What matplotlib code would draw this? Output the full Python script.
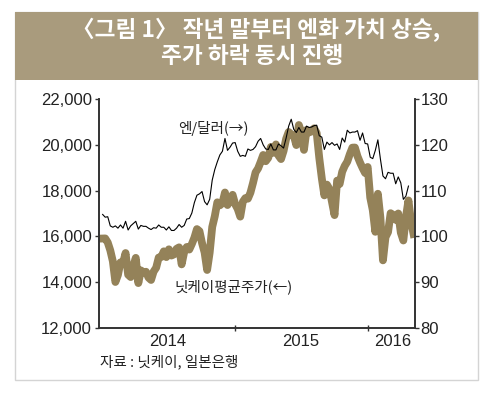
import matplotlib
matplotlib.use("Agg")
import matplotlib.pyplot as plt
from matplotlib.patches import Rectangle
import pandas as pd

plt.rcParams['font.family'] = ['Liberation Sans', 'Noto Sans CJK KR', 'DejaVu Sans']

# Nikkei 225 weekly (left axis), Jan 2014 - early May 2016
nikkei = [
    15908, 15912, 15734, 15391, 14914, 14008, 14313, 14865, 14841, 15274,
    14327, 14224, 14696, 15063, 13960, 14516, 14429, 14457, 14199, 14097,
    14462, 14632, 15077, 15097, 15349, 15095, 15437, 15164, 15215, 15457,
    15523, 14778, 15318, 15539, 15425, 15669, 15948, 16321, 16229, 15709,
    15300, 14532, 15291, 16414, 16880, 17490, 17357, 17460, 17920, 17371,
    17621, 17818,
    17408, 17198, 16864, 17512, 17674, 17648, 17913, 18332, 18797, 18971,
    19254, 19560, 19286, 19435, 19908, 19652, 20020, 19532, 19379, 19733,
    20264, 20563, 20461, 20407, 19990, 20868, 20540, 19780, 20650, 20544,
    20585, 20724, 20519, 19435, 18540, 17792, 18264, 18070, 17500, 16930,
    18438, 18291, 18825, 19083, 19265, 19597, 19879, 19884, 19504, 19230,
    18986, 18769,
    19034, 17698, 17147, 16200, 17865, 16820, 14953, 15967, 16188, 17014,
    16938, 16724, 17002, 16164, 15821, 16848, 17572, 16666, 16106,
]

# JPY per USD weekly (right axis), Jan 2014 - Apr 2016
yen = [
    104.8, 104.2, 104.3, 102.3, 102.0, 102.3, 101.8, 102.5, 101.8, 103.3,
    101.4, 102.3, 102.8, 103.3, 101.6, 102.4, 102.2, 102.2, 101.8, 101.5,
    101.9, 101.8, 102.5, 102.0, 102.0, 101.4, 102.1, 101.3, 101.3, 101.8,
    102.6, 102.0, 102.4, 103.8, 103.9, 105.1, 107.4, 109.0, 109.3, 109.8,
    107.6, 106.9, 108.1, 112.3, 114.6, 116.3, 117.8, 118.6, 121.4, 118.8,
    119.5, 120.4,
    120.5, 118.6, 117.5, 117.7, 117.5, 119.1, 118.8, 119.0, 119.6, 120.8,
    121.4, 120.0, 119.1, 119.0, 120.2, 118.9, 118.9, 120.2, 119.8, 119.3,
    121.5, 124.1, 125.6, 123.4, 122.7, 123.8, 122.8, 122.8, 124.1, 123.8,
    123.9, 124.2, 124.3, 122.0, 121.7, 119.0, 120.6, 120.0, 120.5, 119.9,
    120.2, 119.0, 121.5, 120.6, 123.2, 122.6, 122.8, 122.8, 123.1, 121.0,
    122.6, 120.3,
    120.2, 117.3, 117.0, 118.8, 121.1, 116.9, 113.2, 112.6, 114.0, 113.8,
    113.8, 111.5, 113.0, 111.7, 108.1, 108.8, 111.0,
]

nikkei_dates = pd.date_range('2014-01-03', periods=len(nikkei), freq='W-FRI')
yen_dates = pd.date_range('2014-01-03', periods=len(yen), freq='W-FRI')

left_ticks = [12000, 14000, 16000, 18000, 20000, 22000]
right_ticks = [80, 90, 100, 110, 120, 130]
year_labels = ['2014', '2015', '2016']
year_label_pos = ['2014-07-01', '2015-07-01', '2016-03-10']
year_bounds = ['2015-01-01', '2016-01-01']

band = '#a99b7d'
nik_color = '#948259'
cjk = ['Noto Sans CJK KR', 'DejaVu Sans']

fig = plt.figure(figsize=(5.0, 3.98), dpi=100)
fig.patch.set_facecolor('white')

# outer frame and title band
fig.patches.append(Rectangle((0.03, 0.045), 0.926, 0.925, transform=fig.transFigure,
                             facecolor='none', edgecolor='#d4d4d4', linewidth=1.0))
fig.patches.append(Rectangle((0.03, 0.799), 0.926, 0.171, transform=fig.transFigure,
                             facecolor=band, edgecolor='none'))
fig.text(0.512, 0.925, '〈그림 1〉 작년 말부터 엔화 가치 상승,', color='white',
         fontsize=16.3, fontweight='bold', ha='center', va='center', family=cjk)
fig.text(0.505, 0.857, '주가 하락 동시 진행', color='white',
         fontsize=16.3, fontweight='bold', ha='center', va='center', family=cjk)

ax = fig.add_axes([0.198, 0.176, 0.632, 0.575])
ax2 = ax.twinx()

ax.plot(nikkei_dates, nikkei, color=nik_color, linewidth=5.6, solid_joinstyle='round')
ax2.plot(yen_dates, yen, color='black', linewidth=0.8)

ax.set_ylim(12000, 22000)
ax2.set_ylim(80, 130)
ax.set_xlim(pd.Timestamp('2013-12-24'), pd.Timestamp('2016-05-10'))

ax.set_yticks(left_ticks)
ax.set_yticklabels([f'{v:,}' for v in left_ticks])
ax2.set_yticks(right_ticks)
ax2.set_yticklabels([str(v) for v in right_ticks])

ax.set_xticks([pd.Timestamp(d) for d in year_bounds])
ax.set_xticklabels([])
ax.set_xticks([pd.Timestamp(d) for d in year_label_pos], minor=True)
ax.set_xticklabels(year_labels, minor=True)
ax.tick_params(axis='x', which='major', direction='inout', length=4, width=1, color='#333333')
ax.tick_params(axis='x', which='minor', length=0, labelsize=12, pad=4, labelcolor='#222222')

ax.tick_params(axis='y', direction='out', length=3, width=1, color='#333333',
               labelsize=12, labelcolor='#222222', pad=2)
ax2.tick_params(axis='y', direction='out', length=3, width=1, color='#333333',
                labelsize=12, labelcolor='#222222', pad=1)

for a in (ax, ax2):
    a.spines['top'].set_visible(False)
    for s in ('left', 'right', 'bottom'):
        a.spines[s].set_color('#333333')
        a.spines[s].set_linewidth(1.2)
ax.set_zorder(ax2.get_zorder() - 1)
ax2.patch.set_visible(False)

ax.text(0.25, 0.873, '엔/달러(→)', transform=ax.transAxes, fontsize=10.5,
        ha='left', va='center', color='#222222', family=cjk)
ax.text(0.24, 0.179, '닛케이평균주가(←)', transform=ax.transAxes, fontsize=10.5,
        ha='left', va='center', color='#222222', family=cjk)

fig.text(0.2, 0.0905, '자료 : 닛케이, 일본은행', fontsize=10.5, ha='left', va='center',
         color='#222222', family=cjk)

fig.savefig('out.png', dpi=100)
